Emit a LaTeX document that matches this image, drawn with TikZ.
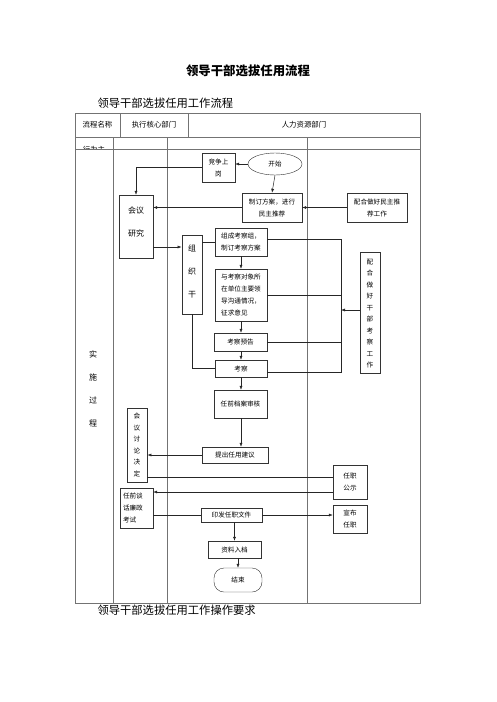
\documentclass[tikz,border=0pt]{standalone}
\usepackage{fontspec}
\newfontfamily\cjk{Noto Sans CJK SC}
\usetikzlibrary{arrows.meta,shapes.geometric}

\tikzset{
    >={Latex[length=4pt,width=3pt]},
    grid/.style={draw=black!55, line width=0.6pt},
    box/.style={draw=black!80, rectangle, inner sep=1pt, align=center,
        font=\cjk\fontsize{6.6}{12}\selectfont},
    vtext/.style={align=center, inner sep=0pt, font=\cjk\fontsize{6.6}{11.5}\selectfont},
    bigtext/.style={align=center, inner sep=0pt, font=\cjk\fontsize{8}{23}\selectfont},
    head/.style={inner sep=0pt, font=\cjk\fontsize{7.4}{9}\selectfont},
    link/.style={draw=black!85, line width=0.5pt},
}

\begin{document}
\begin{tikzpicture}[x=1pt, y=-1pt]
    \useasboundingbox (0,0) rectangle (496,702);

    % titles
    \node[font=\cjk\bfseries\fontsize{12.4}{14}\selectfont] (title) at (248,71) {领导干部选拔任用流程};
    \node[anchor=west, font=\cjk\fontsize{11.3}{13}\selectfont] (subtitle) at (94,103) {领导干部选拔任用工作流程};
    \node[anchor=west, font=\cjk\fontsize{11.3}{13}\selectfont] (caption) at (94,610) {领导干部选拔任用工作操作要求};

    % table
    \draw[grid] (75,113) rectangle (420,603);
    \draw[grid] (75,137) -- (420,137);
    \draw[grid] (75,149) -- (420,149);
    \draw[grid] (120,113) -- (120,137);
    \draw[grid] (188,113) -- (188,137);
    \draw[grid] (113,137) -- (113,603);
    \draw[grid] (167,137) -- (167,603);
    \draw[grid] (307,137) -- (307,603);

    \node[head] (hname) at (97.5,125) {流程名称};
    \node[head] (hcore) at (154,125) {执行核心部门};
    \node[head] (hhr)   at (304,125) {人力资源部门};
    \begin{scope}
        \clip (75,137) rectangle (113,148.4);
        \node[head] (hrole) at (94,149.5) {行为主};
    \end{scope}
    \node[bigtext] (phase) at (93,389) {实\\施\\过\\程};

    % nodes
    \node[ellipse, draw=black!80, minimum width=54pt, minimum height=22pt, inner sep=0pt,
          font=\cjk\fontsize{6.6}{12}\selectfont] (start) at (275,164) {开始};
    \node[box, minimum width=33pt, minimum height=29pt] (jingzheng) at (218.5,167.5) {竞争上\\岗};
    \node[box, minimum width=60pt, minimum height=29pt] (zhiding) at (272,207.5) {制订方案，进行\\民主推荐};
    \node[box, minimum width=60pt, minimum height=29pt] (peihe) at (377,207.5) {配合做好民主推\\荐工作};
    \node[box, minimum width=34pt, minimum height=63pt] (huiyi) at (136,226.5) {};
    \node[bigtext] (huiyitext) at (136,221.5) {会议\\研究};
    \node[box, minimum width=20pt, minimum height=79pt, line width=0.9pt] (zuzhi) at (192,274.5) {};
    \node[bigtext] (zuzhitext) at (192,271) {组\\织\\干};
    \node[box, minimum width=52pt, minimum height=28pt, align=left] (zucheng) at (241,242) {组成考察组，\\制订考察方案};
    \node[box, minimum width=52pt, minimum height=52pt, align=left] (yu) at (241,295) {与考察对象所\\在单位主要领\\导沟通情况，\\征求意见};
    \node[box, minimum width=53pt, minimum height=18pt] (yugao) at (240.5,342) {考察预告};
    \node[box, minimum width=52pt, minimum height=17pt] (kaocha) at (241,368.5) {考察};
    \node[box, minimum width=20pt, minimum height=121pt] (kaochawork) at (370,312.5) {};
    \node[vtext] (kaochaworktext) at (370,313.5) {配\\合\\做\\好\\干\\部\\考\\察\\工\\作};
    \node[box, minimum width=53pt, minimum height=28pt] (dangan) at (240.5,404) {任前档案审核};
    \node[box, minimum width=66pt, minimum height=16pt] (jianyi) at (235,455) {提出任用建议};
    \node[box, minimum width=20pt, minimum height=74pt, line width=0.9pt] (jueding) at (137,445) {};
    \node[vtext] (juedingtext) at (137,445) {会\\议\\讨\\论\\决\\定};
    \node[box, minimum width=34pt, minimum height=34pt] (gongshi) at (350,482) {任职\\公示};
    \node[box, minimum width=34pt, minimum height=28pt] (xuanbu) at (350,519) {宣布\\任职};
    \node[box, minimum width=33pt, minimum height=40pt, align=left, text width=27pt] (tanhua) at (136.5,508) {任前谈\\话廉政\\考试};
    \node[box, minimum width=61pt, minimum height=14pt] (yinfa) at (231.5,515) {印发任职文件};
    \node[box, minimum width=53pt, minimum height=17pt] (ziliao) at (234.5,549.5) {资料入档};
    \node[box, minimum width=48pt, minimum height=24pt, rounded corners=10pt] (finish) at (238,580) {结束};

    % connectors
    \draw[link, ->] (start.west) -- (start.west -| jingzheng.east);
    \draw[link, ->] (jingzheng.west) -| (huiyi.north);
    \draw[link, ->] (start.south) -- (zhiding.north);
    \draw[link, ->] (peihe.west) -- (zhiding.east);
    \draw[link, ->] (zhiding.west) -- (zhiding.west -| huiyi.east);
    \draw[link, ->] (huiyi.east |- 0,247) -- (zuzhi.west |- 0,247);
    \draw[link] (zucheng.west -| zuzhi.east) -- (zucheng.west);
    \draw[link, ->] (zucheng.south) -- (yu.north);
    \draw[link, ->] (yu.south) -- (yu.south |- yugao.north);
    \draw[link, ->] (yugao.south -| kaocha.north) -- (kaocha.north);
    \draw[link, ->] (kaocha.south) -- (kaocha.south |- dangan.north);
    \draw[link, ->] (dangan.south -| kaocha.south) -- (kaocha.south |- jianyi.north);
    \draw[link] (zuzhi.south) |- (kaocha.west);

    % right bracket
    \coordinate (brtop) at (341,239);
    \coordinate (brbot) at (341,372);
    \draw[link] (zucheng.east |- brtop) -- (brtop) -- (brbot) -- (kaocha.east |- brbot);
    \draw[link] (yu.east) -- (yu.east -| brtop);
    \draw[link] (yugao.east) -- (yugao.east -| brtop);
    \draw[link, ->] (kaochawork.west |- 0,310) -- (brtop |- 0,310);

    \draw[link, ->] (jianyi.west) -- (jianyi.west -| jueding.east);
    \draw[link] (jueding.east |- 0,477) -- (gongshi.west |- 0,477);
    \draw[link, ->] (gongshi.west |- 0,492) -- (tanhua.east |- 0,492);
    \draw[link] (yinfa.west) -- (yinfa.west -| tanhua.east);
    \draw[link, ->] (yinfa.east) -- (yinfa.east -| xuanbu.west);
    \draw[link, ->] (ziliao.north |- yinfa.south) -- (ziliao.north);
    \draw[link, ->] (ziliao.south -| finish.north) -- (finish.north);
\end{tikzpicture}
\end{document}
